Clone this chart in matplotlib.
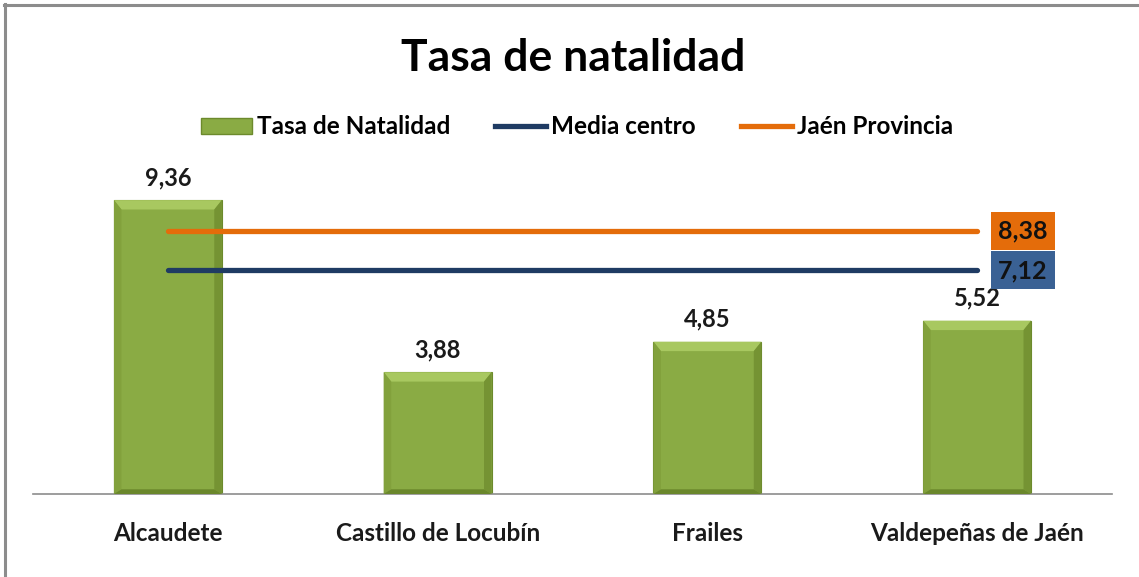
import matplotlib
matplotlib.use("Agg")
import matplotlib.pyplot as plt
from matplotlib.patches import Polygon, Patch
from matplotlib.lines import Line2D

categories = ["Alcaudete", "Castillo de Locubín", "Frailes", "Valdepeñas de Jaén"]
tasa = [9.36, 3.88, 4.85, 5.52]
media_centro = 7.12
jaen_provincia = 8.38
title = "Tasa de natalidad"
series_names = ["Tasa de Natalidad", "Media centro", "Jaén Provincia"]

def fmt(v):
    return f"{v:.2f}".replace(".", ",")

FONT = ["Lato", "DejaVu Sans"]
plt.rcParams["font.family"] = FONT

GREEN = "#8AAB44"
GREEN_DARK = "#6C8A2C"
GREEN_LIGHT = "#A8C860"
ORANGE = "#E46C0A"
NAVY = "#1F3B63"
BLUE_BOX = "#3A6194"

fig = plt.figure(figsize=(11.39, 5.77), dpi=100)
W, H = 1139, 577
ax = fig.add_axes([33 / W, 1 - 494 / H, (1112 - 33) / W, (494 - 180) / H])

x = list(range(len(categories)))
bw = 0.4
bars = ax.bar(x, tasa, width=bw, color=GREEN, edgecolor=GREEN_DARK, linewidth=0.8, zorder=2)

# bevel effect
bx = 0.028
by = 0.3
for b in bars:
    x0, y0 = b.get_x(), b.get_y()
    w, h = b.get_width(), b.get_height()
    top = Polygon([[x0, y0 + h], [x0 + w, y0 + h], [x0 + w - bx, y0 + h - by], [x0 + bx, y0 + h - by]],
                  closed=True, facecolor=GREEN_LIGHT, edgecolor="none", zorder=3)
    left = Polygon([[x0, y0], [x0, y0 + h], [x0 + bx, y0 + h - by], [x0 + bx, y0 + by * 0.5]],
                   closed=True, facecolor="#82A13C", edgecolor="none", zorder=3)
    right = Polygon([[x0 + w, y0], [x0 + w, y0 + h], [x0 + w - bx, y0 + h - by], [x0 + w - bx, y0 + by * 0.5]],
                    closed=True, facecolor="#759333", edgecolor="none", zorder=3)
    bottom = Polygon([[x0, y0], [x0 + w, y0], [x0 + w - bx, y0 + by * 0.5], [x0 + bx, y0 + by * 0.5]],
                     closed=True, facecolor="#6A872B", edgecolor="none", zorder=3)
    for p in (top, left, right, bottom):
        ax.add_patch(p)
    ax.annotate(fmt(h), (x0 + w / 2, h), xytext=(0, 8), textcoords="offset points",
                ha="center", va="bottom", fontsize=17, fontweight="bold", color="#1a1a1a")

ax.plot([x[0], x[-1]], [jaen_provincia] * 2, color=ORANGE, lw=3.8, solid_capstyle="round", zorder=4)
ax.plot([x[0], x[-1]], [media_centro] * 2, color=NAVY, lw=3.8, solid_capstyle="round", zorder=4)

for val, col in ((jaen_provincia, ORANGE), (media_centro, BLUE_BOX)):
    ax.annotate(fmt(val), (x[-1], val), xytext=(33, 0), textcoords="offset points",
                ha="center", va="center", fontsize=18, fontweight="bold", color="#111111",
                bbox=dict(boxstyle="square,pad=0.3", facecolor=col, edgecolor="none"), zorder=5)

ax.set_xlim(-0.5, len(categories) - 0.5)
ax.set_ylim(0, 10)
ax.set_yticks([])
ax.set_xticks(x)
ax.set_xticklabels(categories, fontsize=17.5, fontweight="bold", color="#1a1a1a")
ax.tick_params(axis="x", length=0, pad=20)
for s in ("top", "right", "left"):
    ax.spines[s].set_visible(False)
ax.spines["bottom"].set_color("#8C8C8C")
ax.spines["bottom"].set_linewidth(1.2)
ax.patch.set_alpha(0)

fig.text(573 / W, 1 - 58 / H, title, ha="center", va="center", fontsize=32, fontweight="bold", color="#000000")

handles = [Patch(facecolor=GREEN, edgecolor=GREEN_DARK),
           Line2D([0], [0], color=NAVY, lw=3.8),
           Line2D([0], [0], color=ORANGE, lw=3.8)]
fig.legend(handles, series_names, loc="center", bbox_to_anchor=(577 / W, 1 - 127 / H), ncol=3,
           frameon=False, handlelength=2.1, handleheight=0.6, handletextpad=0.2,
           columnspacing=1.85, prop={"weight": "bold", "size": 17.5})

# chart frame (top and left)
fig.add_artist(Line2D([4 / W, 1], [1 - 5 / H, 1 - 5 / H], color="#8C8C8C", lw=2.2, transform=fig.transFigure))
fig.add_artist(Line2D([5 / W, 5 / W], [0, 1 - 4 / H], color="#8C8C8C", lw=2.2, transform=fig.transFigure))

fig.savefig("out.png", dpi=100, facecolor="white")
